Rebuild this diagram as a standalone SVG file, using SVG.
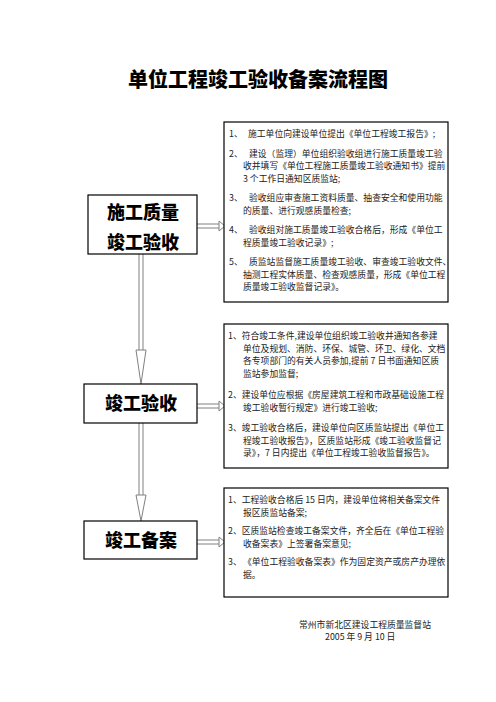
<svg xmlns="http://www.w3.org/2000/svg" width="496" height="702" viewBox="0 0 496 702">
<style>
.box{fill:#fff;stroke:#000;stroke-width:1.2}
.big{font-family:"Noto Sans CJK SC","Noto Sans CJK JP",sans-serif;font-weight:900;font-size:18px;fill:#000;text-anchor:middle}
.t{font-family:"Noto Sans CJK SC","Noto Sans CJK JP",sans-serif;font-size:8.8px;fill:#222}
.ln{stroke:#808080;stroke-width:1;fill:none}
.hd{stroke:#808080;stroke-width:1;fill:#fff}
</style>
<rect width="496" height="702" fill="#fff"/>
<text x="258" y="87" style="font-family:'Noto Sans CJK SC',sans-serif;font-weight:900;font-size:20px;text-anchor:middle">单位工程竣工验收备案流程图</text>

<g id="connectors">
  <!-- vertical 1 -->
  <line class="ln" x1="139" y1="254" x2="139" y2="350"/>
  <line class="ln" x1="143" y1="254" x2="143" y2="350"/>
  <polygon class="hd" points="136,350 146,350 141,384"/>
  <!-- vertical 2 -->
  <line class="ln" x1="139" y1="423" x2="139" y2="495"/>
  <line class="ln" x1="143" y1="423" x2="143" y2="495"/>
  <polygon class="hd" points="136,495 146,495 141,521"/>
  <!-- horizontal 1 -->
  <line class="ln" x1="197" y1="224" x2="219" y2="224"/>
  <line class="ln" x1="197" y1="228" x2="219" y2="228"/>
  <polygon class="hd" points="219,221 225,226 219,231"/>
  <!-- horizontal 2 -->
  <line class="ln" x1="197" y1="404" x2="219" y2="404"/>
  <line class="ln" x1="197" y1="408" x2="219" y2="408"/>
  <polygon class="hd" points="219,401 225,406 219,411"/>
  <!-- horizontal 3 -->
  <line class="ln" x1="197" y1="540" x2="219" y2="540"/>
  <line class="ln" x1="197" y1="544" x2="219" y2="544"/>
  <polygon class="hd" points="219,537 225,542 219,547"/>
</g>

<g id="n1">
  <rect class="box" x="88" y="195" width="109" height="59"/>
  <text class="big" x="143" y="219">施工质量</text>
  <text class="big" x="143" y="249">竣工验收</text>
</g>
<g id="n2">
  <rect class="box" x="84" y="384" width="113" height="39"/>
  <text class="big" x="141" y="410">竣工验收</text>
</g>
<g id="n3">
  <rect class="box" x="84" y="521" width="113" height="38"/>
  <text class="big" x="141" y="547">竣工备案</text>
</g>

<g id="d1">
  <rect class="box" x="224" y="122" width="224" height="180"/>
  <text class="t" x="229" y="137">1、</text><text class="t" x="248" y="137">施工单位向建设单位提出《单位工程竣工报告》;</text>
  <text class="t" x="229" y="156.5">2、</text><text class="t" x="249" y="156.5">建设（监理）单位组织验收组进行施工质量竣工验</text>
  <text class="t" x="243" y="169">收并填写《单位工程施工质量竣工验收通知书》提前</text>
  <text class="t" x="243" y="181.5">3 个工作日通知区质监站;</text>
  <text class="t" x="229" y="201">3、</text><text class="t" x="249" y="201">验收组应审查施工资料质量、抽查安全和使用功能</text>
  <text class="t" x="243" y="213.5">的质量、进行观感质量检查;</text>
  <text class="t" x="229" y="233">4、</text><text class="t" x="249" y="233">验收组对施工质量竣工验收合格后，形成《单位工</text>
  <text class="t" x="243" y="245.5">程质量竣工验收记录》;</text>
  <text class="t" x="229" y="265">5、</text><text class="t" x="249" y="265">质监站监督施工质量竣工验收、审查竣工验收文件、</text>
  <text class="t" x="243" y="277.5">抽测工程实体质量、检查观感质量，形成《单位工程</text>
  <text class="t" x="243" y="290">质量竣工验收监督记录》。</text>
</g>

<g id="d2">
  <rect class="box" x="224" y="324" width="224" height="144"/>
  <text class="t" x="228" y="339">1、符合竣工条件,建设单位组织竣工验收并通知各参建</text>
  <text class="t" x="243" y="351.5">单位及规划、消防、环保、城管、环卫、绿化、文档</text>
  <text class="t" x="243" y="364">各专项部门的有关人员参加,提前 7 日书面通知区质</text>
  <text class="t" x="243" y="376.5">监站参加监督;</text>
  <text class="t" x="228" y="398">2、建设单位应根据《房屋建筑工程和市政基础设施工程</text>
  <text class="t" x="243" y="410.5">竣工验收暂行规定》进行竣工验收;</text>
  <text class="t" x="228" y="431">3、竣工验收合格后，建设单位向区质监站提出《单位工</text>
  <text class="t" x="243" y="443.5">程竣工验收报告》，区质监站形成《竣工验收监督记</text>
  <text class="t" x="243" y="456">录》，7 日内提出《单位工程竣工验收监督报告》。</text>
</g>

<g id="d3">
  <rect class="box" x="224" y="488" width="224" height="109"/>
  <text class="t" x="228" y="503">1、工程验收合格后 15 日内，建设单位将相关备案文件</text>
  <text class="t" x="243" y="515.5">报区质监站备案;</text>
  <text class="t" x="228" y="534">2、区质监站检查竣工备案文件，齐全后在《单位工程验</text>
  <text class="t" x="243" y="546.5">收备案表》上签署备案意见;</text>
  <text class="t" x="228" y="565">3、</text><text class="t" x="243" y="565">《单位工程验收备案表》作为固定资产或房产办理依</text>
  <text class="t" x="243" y="578">据。</text>
</g>

<g id="footer">
  <text class="t" x="299" y="628">常州市新北区建设工程质量监督站</text>
  <text class="t" x="325" y="640">2005 年 9 月 10 日</text>
</g>
</svg>
